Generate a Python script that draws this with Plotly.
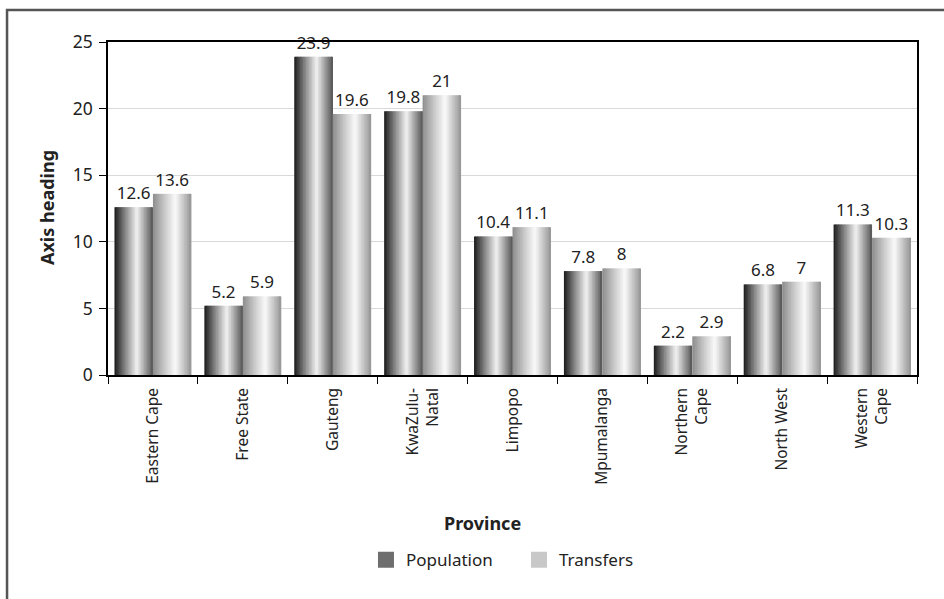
import plotly.graph_objects as go

provinces = ["Eastern Cape", "Free State", "Gauteng", "KwaZulu-Natal", "Limpopo",
             "Mpumalanga", "Northern Cape", "North West", "Western Cape"]
tick_labels = ["Eastern Cape", "Free State", "Gauteng", "KwaZulu-<br>Natal", "Limpopo",
               "Mpumalanga", "Northern<br>Cape", "North West", "Western<br>Cape"]
population = [12.6, 5.2, 23.9, 19.8, 10.4, 7.8, 2.2, 6.8, 11.3]
transfers = [13.6, 5.9, 19.6, 21, 11.1, 8, 2.9, 7, 10.3]

FONT = "Noto Sans"
BAR_W = 0.428
K = 26

def lerp_stops(stops, t):
    for (t0, c0), (t1, c1) in zip(stops[:-1], stops[1:]):
        if t0 <= t <= t1:
            f = (t - t0) / (t1 - t0) if t1 > t0 else 0
            v = round(c0 + (c1 - c0) * f)
            return f"rgb({v},{v},{v})"
    v = stops[-1][1]
    return f"rgb({v},{v},{v})"

pop_stops = [(0, 25), (0.28, 135), (0.58, 242), (0.82, 150), (1.0, 85)]
tra_stops = [(0, 140), (0.3, 200), (0.58, 250), (0.82, 192), (1.0, 150)]

fig = go.Figure()

def add_series(name, vals, start, stops, legend_gray):
    sw = BAR_W / K
    for i in range(K):
        t = (i + 0.5) / K
        w = sw * 1.5 if i < K - 1 else sw
        fig.add_trace(go.Bar(
            x=provinces, y=vals, offset=start + i * sw, width=w,
            marker=dict(color=lerp_stops(stops, t), line=dict(width=0)),
            showlegend=False, hoverinfo="skip"))
    fig.add_trace(go.Bar(
        x=provinces, y=vals, offset=start, width=BAR_W, name=name,
        marker=dict(color="rgba(0,0,0,0)", line=dict(width=0)),
        texttemplate="%{y}", textposition="outside", cliponaxis=False,
        textfont=dict(family=FONT, size=17, color="#222"),
        showlegend=False))
    fig.add_trace(go.Scatter(
        x=[None], y=[None], name=name, mode="markers",
        marker=dict(symbol="square", size=20, color=legend_gray, line=dict(width=0)),
        showlegend=True))

add_series("Population", population, -BAR_W, pop_stops, "rgb(110,110,110)")
add_series("Transfers", transfers, 0.0, tra_stops, "rgb(200,200,200)")

fig.update_layout(
    width=944, height=599,
    margin=dict(l=108, r=27, t=42, b=224),
    paper_bgcolor="white", plot_bgcolor="white",
    barmode="overlay",
    font=dict(family=FONT, size=17, color="#222"),
    showlegend=True,
    legend=dict(orientation="h", x=0.508, xanchor="center", y=-0.556, yanchor="middle",
                font=dict(family=FONT, size=17, color="#222"),
                itemwidth=30, tracegroupgap=0, entrywidth=108, entrywidthmode="pixels"),
    xaxis=dict(
        tickmode="array", tickvals=provinces, ticktext=tick_labels,
        tickangle=-90, tickson="boundaries", ticks="outside", ticklen=7,
        tickcolor="black", showline=True, linecolor="black", linewidth=1.5,
        mirror=True, showgrid=False, ticklabelstandoff=5,
        tickfont=dict(family=FONT, size=15.5, color="#222"),
    ),
    yaxis=dict(
        range=[0, 25], dtick=5, ticks="outside", ticklen=7, tickcolor="black",
        showline=True, linecolor="black", linewidth=1.5, mirror=True,
        showgrid=True, gridcolor="#d9d9d9", gridwidth=1, zeroline=False,
        ticklabelstandoff=3,
        tickfont=dict(family=FONT, size=17.5, color="#222"),
    ),
    annotations=[
        dict(text="<b>Province</b>", xref="paper", yref="paper", x=0.4635, y=-0.444,
             showarrow=False, font=dict(family=FONT, size=18, color="#222"),
             xanchor="center", yanchor="middle"),
        dict(text="<b>Axis heading</b>", xref="paper", yref="paper", x=-0.0754, y=0.5015,
             showarrow=False, textangle=-90, font=dict(family=FONT, size=18, color="#222"),
             xanchor="center", yanchor="middle"),
    ],
    shapes=[
        dict(type="rect", xref="paper", yref="paper", x0=-0.1248, y0=-1.0, x1=1.2, y1=1.096,
             line=dict(color="#555", width=2.5), fillcolor="rgba(0,0,0,0)", layer="below"),
    ],
)

fig.write_html("out.html")
